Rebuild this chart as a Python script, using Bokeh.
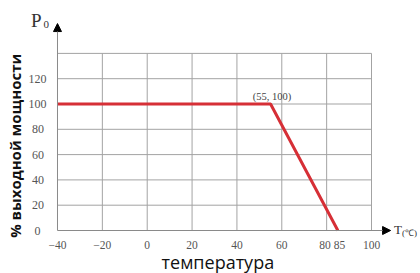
from bokeh.plotting import figure
from bokeh.models import FixedTicker, Label, Arrow, NormalHead, Range1d
from bokeh.embed import file_html
from bokeh.resources import INLINE

# ---- data ----
temps = [-40, 55, 85]
power = [100, 100, 0]
x_ticks = [-40, -20, 0, 20, 40, 60, 80, 85, 100]
y_ticks = [0, 20, 40, 60, 80, 100, 120]
x_grid = [-20, 0, 20, 40, 60, 80, 100]
y_grid = [20, 40, 60, 80, 100, 120, 140]
knee_text = "(55, 100)"
y_title = "% выходной мощности"
x_title = "температура"

X_LO, X_GRID_HI, X_ARROW = -40, 100, 108.5
Y_LO, Y_GRID_HI, Y_ARROW = 0, 140, 163.6

p = figure(width=420, height=273, output_backend="svg", toolbar_location=None,
           title=None,
           x_range=Range1d(-65.41, 121.84), y_range=Range1d(-33.99, 181.82),
           min_border=0, min_border_left=0, min_border_right=0,
           min_border_top=0, min_border_bottom=0)
p.outline_line_color = None
p.xgrid.visible = False
p.ygrid.visible = False

grid_color = "#a3a3a3"
p.segment(x0=x_grid, y0=[Y_LO] * len(x_grid), x1=x_grid, y1=[Y_GRID_HI] * len(x_grid),
          line_color=grid_color, line_width=1)
p.segment(x0=[X_LO] * len(y_grid), y0=y_grid, x1=[X_GRID_HI] * len(y_grid), y1=y_grid,
          line_color=grid_color, line_width=1)

p.line(temps, power, line_width=3, line_color="#d62f36")

axis_color = "#8a8a8a"
for ax in (p.xaxis, p.yaxis):
    ax.major_tick_line_color = None
    ax.minor_tick_line_color = None
    ax.axis_line_color = None
    ax.major_label_text_font = "Liberation Serif"
    ax.major_label_text_color = "#555555"

p.xaxis.major_label_text_font_size = "11.5px"
p.yaxis.major_label_text_font_size = "12px"
p.xaxis.fixed_location = Y_LO
p.yaxis.fixed_location = X_LO
p.xaxis.ticker = FixedTicker(ticks=x_ticks)
p.xaxis.major_label_standoff = 2
p.xaxis.major_label_overrides = {-40: "\u221240", -20: "\u221220",
                                 80: "80\u2009\u200a", 85: "\u2009\u200a85"}
p.yaxis.ticker = FixedTicker(ticks=y_ticks)
p.yaxis.major_label_standoff = 5
p.yaxis.major_label_overrides = {0: "0\u2007", 20: "20\u2009", 40: "40\u2009",
                                 60: "60\u2009", 80: "80\u2009"}

# axis lines with arrow heads
p.add_layout(Arrow(end=NormalHead(size=8, fill_color="black", line_color="black"),
                   x_start=X_LO, y_start=Y_LO, x_end=X_LO, y_end=Y_ARROW,
                   line_color=axis_color, line_width=1))
p.add_layout(Arrow(end=NormalHead(size=8, fill_color="black", line_color="black"),
                   x_start=X_LO, y_start=Y_LO, x_end=X_ARROW, y_end=Y_LO,
                   line_color=axis_color, line_width=1))

p.add_layout(Label(x=55.6, y=105.9, text=knee_text, text_align="center",
                   text_baseline="middle", text_font="Liberation Serif",
                   text_font_size="10.5px", text_color="#444444"))

p.add_layout(Label(x=-49.5, y=166.4, text="P", text_align="center",
                   text_baseline="middle", text_font="Liberation Serif",
                   text_font_size="19px", text_color="#333333"))
p.add_layout(Label(x=-45.0, y=162.6, text="0", text_align="center",
                   text_baseline="middle", text_font="Liberation Serif",
                   text_font_size="11px", text_color="#333333"))

p.add_layout(Label(x=110.0, y=0.8, text="T", text_align="left",
                   text_baseline="middle", text_font="Liberation Serif",
                   text_font_size="13px", text_color="#333333"))
p.add_layout(Label(x=113.6, y=-1.6, text="(\u2103)", text_align="left",
                   text_baseline="middle", text_font="Liberation Serif",
                   text_font_size="9px", text_color="#333333"))

p.add_layout(Label(x=-59.0, y=67, text=y_title, angle=1.5707963, angle_units="rad",
                   text_align="center", text_baseline="middle", text_font="Open Sans",
                   text_font_style="bold", text_font_size="15px", text_color="#111111"))
p.add_layout(Label(x=31.5, y=-25.2, text=x_title, text_align="center",
                   text_baseline="middle", text_font="Open Sans",
                   text_font_size="18px", text_color="#111111"))

open("out.html", "w").write(file_html(p, INLINE))
